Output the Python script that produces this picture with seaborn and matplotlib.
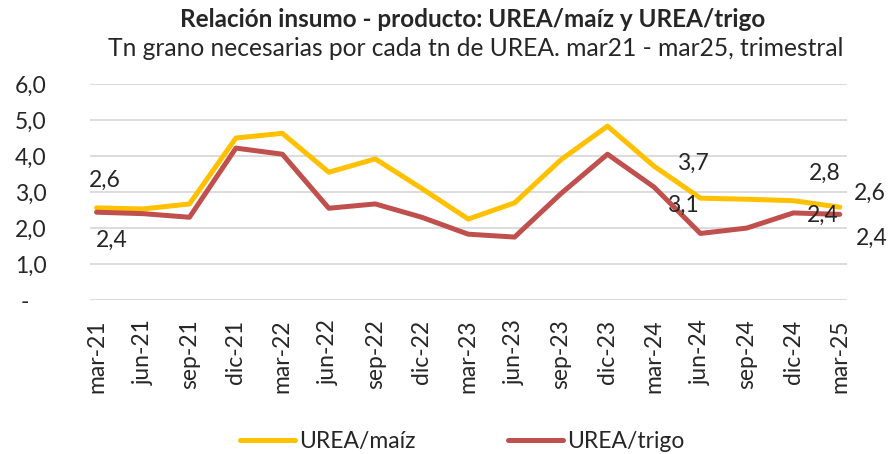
import pandas as pd
import matplotlib.pyplot as plt
import seaborn as sns

# Datos trimestrales
periodos = ['mar-21', 'jun-21', 'sep-21', 'dic-21', 'mar-22', 'jun-22', 'sep-22', 'dic-22',
            'mar-23', 'jun-23', 'sep-23', 'dic-23', 'mar-24', 'jun-24', 'sep-24', 'dic-24', 'mar-25']
urea_maiz = [2.56, 2.53, 2.67, 4.50, 4.63, 3.55, 3.92, 3.10,
             2.25, 2.70, 3.90, 4.83, 3.72, 2.83, 2.80, 2.76, 2.58]
urea_trigo = [2.44, 2.40, 2.30, 4.22, 4.05, 2.55, 2.67, 2.30,
              1.83, 1.75, 2.96, 4.05, 3.14, 1.85, 2.00, 2.42, 2.38]

series = ['UREA/maíz', 'UREA/trigo']
colores = {'UREA/maíz': '#FFC000', 'UREA/trigo': '#C0504D'}

df = pd.DataFrame({
    'periodo': list(range(len(periodos))) * 2,
    'valor': urea_maiz + urea_trigo,
    'serie': [series[0]] * len(periodos) + [series[1]] * len(periodos),
})

sns.set_style('white')
plt.rcParams['font.family'] = ['Lato', 'DejaVu Sans']
fs = 16.5

fig = plt.figure(figsize=(8.96, 4.54), dpi=100)
ax = fig.add_axes([0.100, 0.339, 0.845, 0.476])

sns.lineplot(data=df, x='periodo', y='valor', hue='serie', palette=colores,
             linewidth=3.6, ax=ax, legend=False)

ax.set_xlim(-0.15, len(periodos) - 1 + 0.15)
ax.set_ylim(0, 6)
ax.set_yticks([0, 1, 2, 3, 4, 5, 6])
ax.set_yticklabels(['-   ', '1,0', '2,0', '3,0', '4,0', '5,0', '6,0'], fontsize=fs)
ax.set_xticks(range(len(periodos)))
ax.set_xticklabels(periodos, rotation=90, fontsize=fs)
ax.tick_params(axis='y', length=0, pad=31)
ax.tick_params(axis='x', length=0, pad=14)
ax.grid(axis='y', color='#D9D9D9', linewidth=1.3)
ax.set_axisbelow(True)
for s in ax.spines.values():
    s.set_visible(False)
ax.set_xlabel('')
ax.set_ylabel('')

# Etiquetas de datos (indice, serie, desplazamiento en pixeles)
etiquetas = [
    (0, urea_maiz, (8, 28)),
    (0, urea_trigo, (15, -28)),
    (12, urea_maiz, (39, 3)),
    (12, urea_trigo, (29, -18)),
    (15, urea_maiz, (31, 27)),
    (15, urea_trigo, (29, -2)),
    (16, urea_maiz, (30, 14)),
    (16, urea_trigo, (32, -24)),
]
for i, vals, off in etiquetas:
    ax.annotate(f'{vals[i]:.1f}'.replace('.', ','), (i, vals[i]), xytext=off,
                textcoords='offset pixels', ha='center', va='center', fontsize=fs)

# Leyenda
handles = [plt.Line2D([], [], color=colores[s], linewidth=3.6) for s in series]
fig.legend(handles, series, loc='center', bbox_to_anchor=(0.516, 0.028), ncol=2,
           frameon=False, fontsize=fs, handlelength=2.4, columnspacing=4.0, handletextpad=0.2)

fig.text(0.528, 0.958, 'Relación insumo - producto: UREA/maíz y UREA/trigo',
         ha='center', va='center', fontsize=17.5, fontweight='bold')
fig.text(0.531, 0.893, 'Tn grano necesarias por cada tn de UREA. mar21 - mar25, trimestral',
         ha='center', va='center', fontsize=17.7)

plt.savefig('out.png', dpi=100)
plt.close()
